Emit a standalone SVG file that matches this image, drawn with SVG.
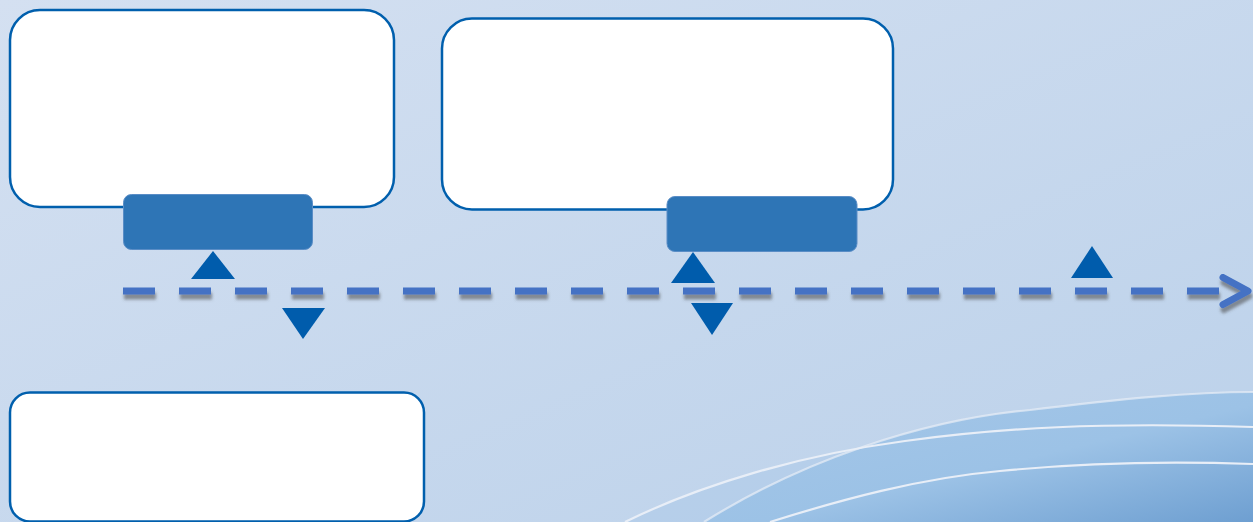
<svg xmlns="http://www.w3.org/2000/svg" width="1253" height="522" viewBox="0 0 1253 522">
<defs>
<linearGradient id="bg" x1="0" y1="0" x2="1" y2="1">
<stop offset="0" stop-color="#D4E0F1"/>
<stop offset="1" stop-color="#BBD1EA"/>
</linearGradient>
<linearGradient id="wave" x1="0" y1="0" x2="1" y2="1">
<stop offset="0" stop-color="#A6C7E8"/>
<stop offset="0.55" stop-color="#9CC2E6"/>
<stop offset="1" stop-color="#6E9FD1"/>
</linearGradient>
<filter id="sh" x="-5%" y="-50%" width="110%" height="200%">
<feDropShadow dx="1" dy="5" stdDeviation="1.6" flood-color="#4a4a4a" flood-opacity="0.55"/>
</filter>
<style>
.box{fill:#FFFFFF;stroke:#005FAD;stroke-width:2.5}
.tab{fill:#2E75B6;stroke:#5A8DC6;stroke-width:1}
.tri{fill:#005CAC}
.dash{fill:none;stroke:#4472C4;stroke-width:7;stroke-dasharray:32 24}
.head{fill:none;stroke:#4472C4;stroke-width:7;stroke-linecap:round;stroke-linejoin:round}
.wl{fill:none;stroke:#E8EEF7;stroke-width:2.2}
</style>
</defs>
<rect width="1253" height="522" fill="url(#bg)"/>
<g id="waves">
<path d="M625,522 C700,485 800,455 905,441 C1000,428 1100,422 1253,427 L1253,522 Z" fill="#A9C8E8" opacity="0.45"/>
<path d="M704,522 C800,462 920,420 1030,410 C1120,399 1190,392 1253,392 L1253,522 Z" fill="url(#wave)"/>
<path class="wl" d="M625,522 C700,485 800,455 905,441 C1000,428 1100,422 1253,427"/>
<path class="wl" d="M704,522 C800,462 920,420 1030,410 C1120,399 1190,392 1253,392" opacity="0.7"/>
<path class="wl" d="M770,522 C840,500 920,478 1000,471 C1080,463 1170,461 1253,464"/>
</g>
<g id="node-box1">
<rect class="box" x="10" y="10" width="384" height="197" rx="30"/>
</g>
<g id="node-tab1">
<rect class="tab" x="123.5" y="194.5" width="189" height="55" rx="8"/>
</g>
<g id="node-box2">
<rect class="box" x="442" y="18.5" width="451" height="191" rx="30"/>
</g>
<g id="node-tab2">
<rect class="tab" x="667" y="196.5" width="190" height="55" rx="8"/>
</g>
<g id="node-box3">
<rect class="box" x="10" y="392.5" width="414" height="129" rx="20"/>
</g>
<g id="connectors">
<g filter="url(#sh)">
<path class="dash" d="M123,291 H1220"/>
<polyline class="head" points="1223,277.5 1248,291 1223,304.5"/>
</g>
<polygon class="tri" points="191,279 235,279 213,251"/>
<polygon class="tri" points="282,308 325,308 303,339"/>
<polygon class="tri" points="671,283 715,283 693,252"/>
<polygon class="tri" points="691,303 733,303 712,335"/>
<polygon class="tri" points="1071,278 1113,278 1092,246"/>
</g>
</svg>
